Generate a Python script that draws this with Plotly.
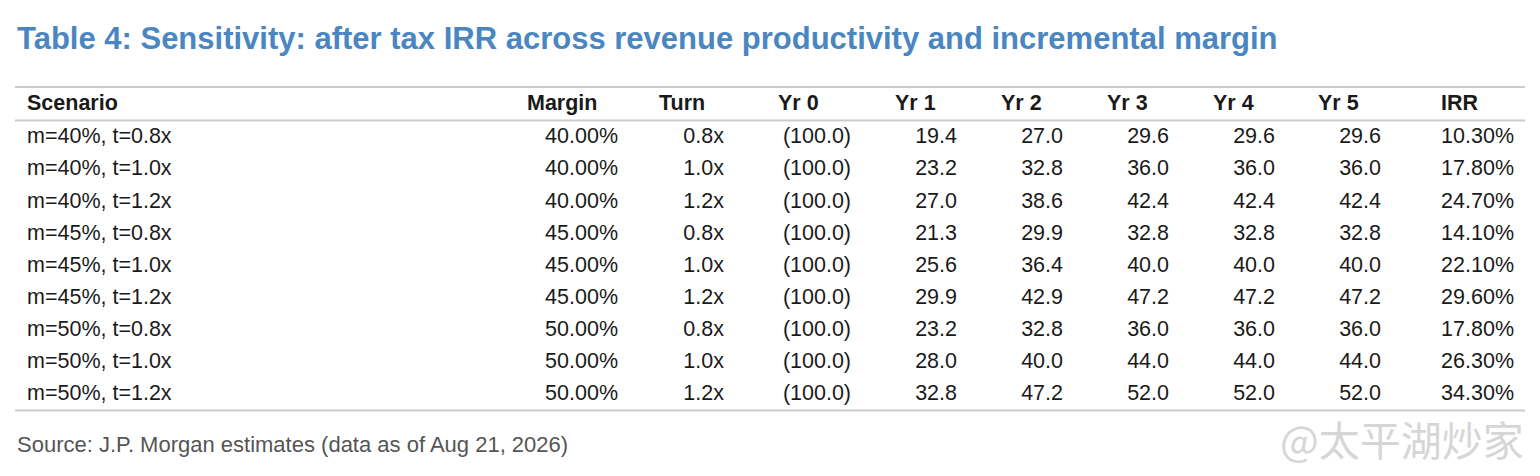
import plotly.graph_objects as go

title = "Table 4: Sensitivity: after tax IRR across revenue productivity and incremental margin"
source = "Source: J.P. Morgan estimates (data as of Aug 21, 2026)"
watermark = "@太平湖炒家"

columns = ["Scenario", "Margin", "Turn", "Yr 0", "Yr 1", "Yr 2", "Yr 3", "Yr 4", "Yr 5", "IRR"]
scenarios = [
    "m=40%, t=0.8x", "m=40%, t=1.0x", "m=40%, t=1.2x",
    "m=45%, t=0.8x", "m=45%, t=1.0x", "m=45%, t=1.2x",
    "m=50%, t=0.8x", "m=50%, t=1.0x", "m=50%, t=1.2x",
]
margin = [40.0, 40.0, 40.0, 45.0, 45.0, 45.0, 50.0, 50.0, 50.0]
turn = [0.8, 1.0, 1.2, 0.8, 1.0, 1.2, 0.8, 1.0, 1.2]
yr0 = [-100.0, -100.0, -100.0, -100.0, -100.0, -100.0, -100.0, -100.0, -100.0]
yr1 = [19.4, 23.2, 27.0, 21.3, 25.6, 29.9, 23.2, 28.0, 32.8]
yr2 = [27.0, 32.8, 38.6, 29.9, 36.4, 42.9, 32.8, 40.0, 47.2]
yr3 = [29.6, 36.0, 42.4, 32.8, 40.0, 47.2, 36.0, 44.0, 52.0]
yr4 = [29.6, 36.0, 42.4, 32.8, 40.0, 47.2, 36.0, 44.0, 52.0]
yr5 = [29.6, 36.0, 42.4, 32.8, 40.0, 47.2, 36.0, 44.0, 52.0]
irr = [10.30, 17.80, 24.70, 14.10, 22.10, 29.60, 17.80, 26.30, 34.30]


def num(v):
    return f"({abs(v):.1f})" if v < 0 else f"{v:.1f}"


body = [
    scenarios,
    [f"{v:.2f}%" for v in margin],
    [f"{v:.1f}x" for v in turn],
    [num(v) for v in yr0],
    [num(v) for v in yr1],
    [num(v) for v in yr2],
    [num(v) for v in yr3],
    [num(v) for v in yr4],
    [num(v) for v in yr5],
    [f"{v:.2f}%" for v in irr],
]

# axes are in screen pixels; the page body adds an 8px offset
W, H = 1540, 476
OFF = 8
FONT = "Arial, Liberation Sans, Helvetica, sans-serif"
head_left = [27, 527, 659, 778, 895, 1001, 1107, 1213, 1318, 1441]
val_right = [None, 618, 724, 851, 957, 1063, 1169, 1275, 1381, 1514]
head_y = 105
row_y0, row_h = 138, 32.1
rows_y = [row_y0 + i * row_h for i in range(len(scenarios))]

fig = go.Figure()

fig.add_trace(go.Scatter(
    x=head_left, y=[head_y] * len(columns), text=columns,
    mode="text", textposition="middle right",
    textfont=dict(family=FONT, size=21.5, color="#1a1a1a", weight="bold"),
    hoverinfo="skip", showlegend=False,
))

for i, vals in enumerate(body):
    if i == 0:
        xs, pos = [head_left[0]] * len(vals), "middle right"
    else:
        xs, pos = [val_right[i]] * len(vals), "middle left"
    fig.add_trace(go.Scatter(
        x=xs, y=rows_y, text=vals, mode="text", textposition=pos,
        textfont=dict(family=FONT, size=21.5, color="#1a1a1a"),
        hoverinfo="skip", showlegend=False,
    ))

line_style = dict(color="#cccccc", width=2)
for yy in [87, 120.5, 410.5]:
    fig.add_shape(type="line", x0=15, x1=1525, y0=yy, y1=yy, xref="x", yref="y", line=line_style)

fig.add_annotation(
    x=15, y=38.5, xref="x", yref="y", text=f"<b>{title}</b>", showarrow=False,
    xanchor="left", yanchor="middle",
    font=dict(family=FONT, size=31, color="#4a86c1"),
)
fig.add_annotation(
    x=15, y=444, xref="x", yref="y", text=source, showarrow=False,
    xanchor="left", yanchor="middle",
    font=dict(family=FONT, size=22, color="#555555"),
)
fig.add_annotation(
    x=1526, y=438, xref="x", yref="y", text=watermark, showarrow=False,
    xanchor="right", yanchor="middle",
    font=dict(family="Noto Sans CJK SC", size=41, color="#d6d6d6"),
)

fig.update_layout(
    width=W, height=H, margin=dict(l=0, r=0, t=0, b=0),
    paper_bgcolor="white", plot_bgcolor="white",
    xaxis=dict(range=[OFF, W + OFF], visible=False, fixedrange=True),
    yaxis=dict(range=[H + OFF, OFF], visible=False, fixedrange=True),
)

fig.write_html("out.html")
